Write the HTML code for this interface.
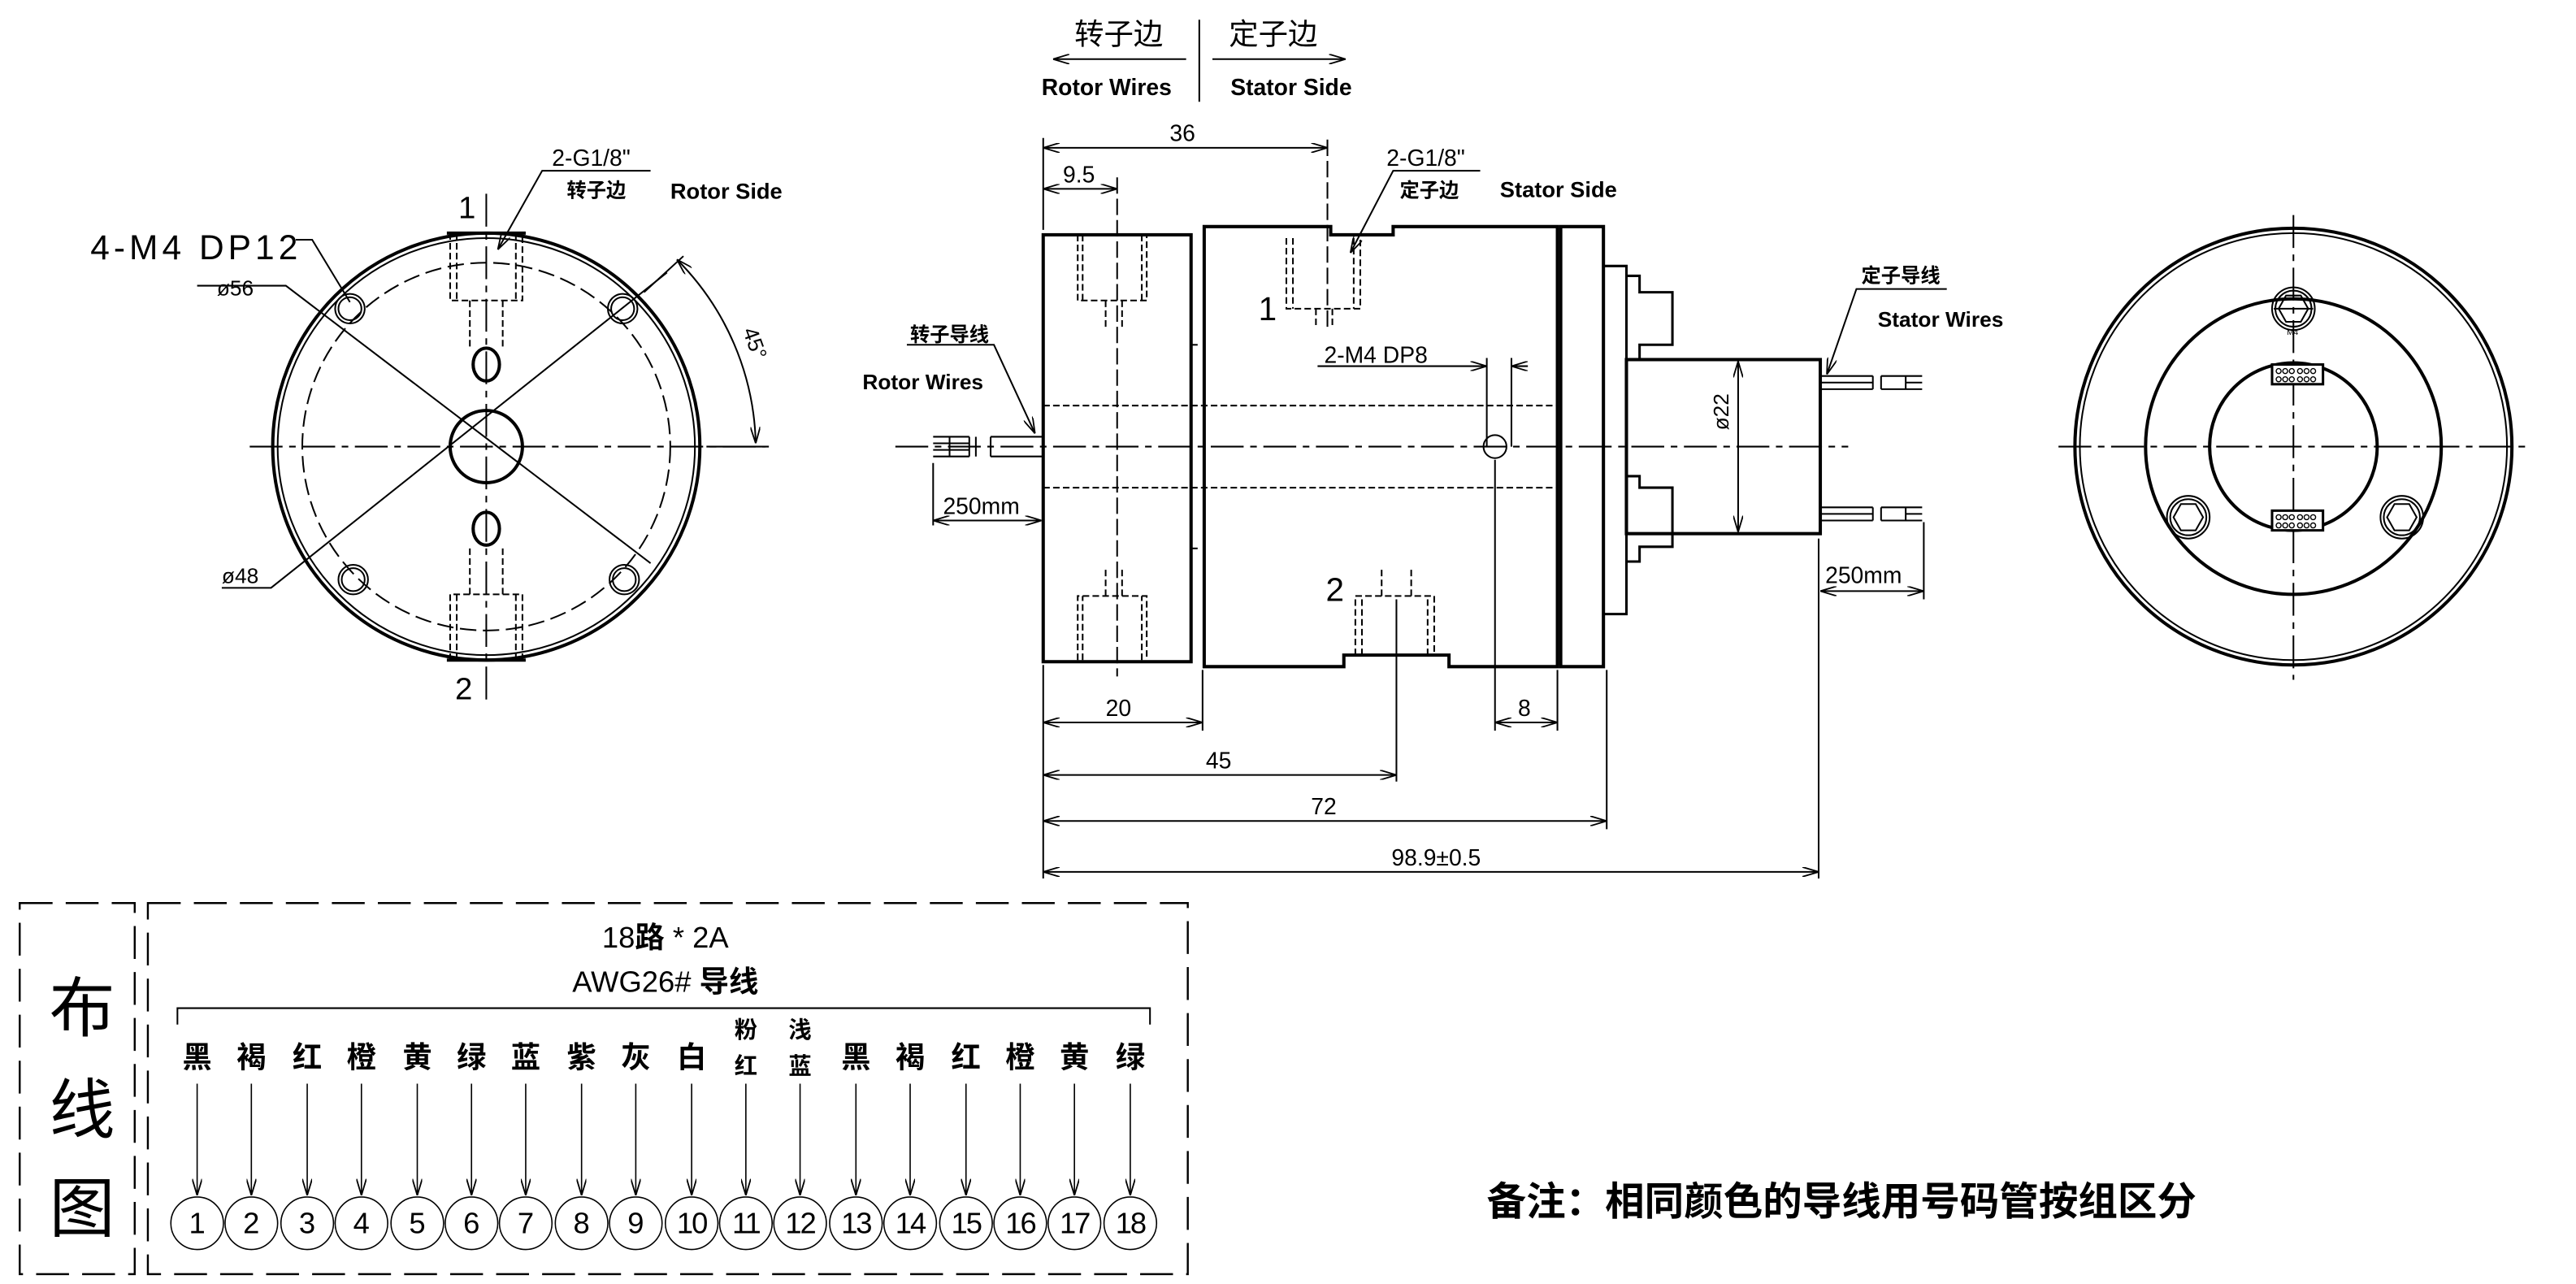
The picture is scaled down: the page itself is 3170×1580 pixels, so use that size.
<!DOCTYPE html>
<html><head><meta charset="utf-8"><style>
html,body{margin:0;padding:0;background:#fff}
svg{display:block}
text{font-family:"Liberation Sans","Noto Sans CJK SC",sans-serif;fill:#000}
.c{font-family:"Liberation Sans","Noto Sans CJK SC",sans-serif}
.n{font-family:"Liberation Sans Narrow","Liberation Sans",sans-serif;font-weight:normal}
</style></head><body>
<svg width="3170" height="1580" viewBox="0 0 1568 782" preserveAspectRatio="none" xmlns="http://www.w3.org/2000/svg">
<defs>
<marker id="a" viewBox="0 0 10 6" refX="10" refY="3" markerWidth="10" markerHeight="6" orient="auto-start-reverse" markerUnits="userSpaceOnUse"><path d="M0,0 L10,3 L0,6" fill="none" stroke="#000" stroke-width="0.9"/></marker>
</defs>
<g fill="none" stroke="#000" stroke-width="1">
<line x1="730" y1="12" x2="730" y2="62"/>
<line x1="722" y1="36" x2="641" y2="36" marker-end="url(#a)"/>
<line x1="738" y1="36" x2="819" y2="36" marker-end="url(#a)"/>

<g>
<circle cx="296" cy="272" r="130" stroke-width="2"/>
<circle cx="296" cy="272" r="127" stroke-width="1"/>
<line x1="272" y1="142" x2="320" y2="142" stroke-width="2"/>
<line x1="272" y1="402" x2="320" y2="402" stroke-width="2"/>
<circle cx="296" cy="272" r="112" stroke-dasharray="10,4"/>
<circle cx="296" cy="272" r="22" stroke-width="2"/>
<ellipse cx="296" cy="222" rx="8" ry="10" stroke-width="2"/>
<ellipse cx="296" cy="322" rx="8" ry="10" stroke-width="2"/>
<g stroke-dasharray="4,2">
<path d="M274,142 V183 H318 V142 M278,142 V183 M314,142 V183"/>
<path d="M286,183 V212 M306,183 V212"/>
<path d="M274,402 V362 H318 V402 M278,402 V362 M314,402 V362"/>
<path d="M286,362 V332 M306,362 V332"/>
</g>
<circle cx="213" cy="188" r="9"/><circle cx="213" cy="188" r="7"/>
<circle cx="379" cy="188" r="9"/><circle cx="379" cy="188" r="7"/>
<circle cx="215" cy="353" r="9"/><circle cx="215" cy="353" r="7"/>
<circle cx="380" cy="353" r="9"/><circle cx="380" cy="353" r="7"/>
<line x1="152" y1="272" x2="470" y2="272" stroke-dasharray="20,4,4,4"/>
<line x1="296" y1="118" x2="296" y2="430" stroke-dasharray="20,4,4,4"/>
<path d="M120,174 H174 L396,343"/>
<path d="M135,358 H165 L406,166"/>
<path d="M180,146 H190 L213,184" />
<path d="M396,104 H330 L303,152" marker-end="url(#a)"/>
<path d="M460,270 A164,164 0 0 0 412,158" marker-end="url(#a)" marker-start="url(#a)"/>
<line x1="392" y1="178" x2="416" y2="156"/>
<line x1="430" y1="272" x2="466" y2="272"/>
</g>
</g>
<text x="55" y="158" class="n" font-size="21" letter-spacing="2.5">4-M4 DP12</text>
<text x="132" y="180" class="n" font-size="13">ø56</text>
<text x="135" y="355" class="n" font-size="13">ø48</text>
<text x="279" y="133" class="n" font-size="19">1</text>
<text x="277" y="426" class="n" font-size="19">2</text>
<text x="336" y="101" class="n" font-size="14">2-G1/8"</text>
<text x="345" y="120" font-size="12" font-weight="bold">转子边</text>
<text x="408" y="121" font-size="13.5" font-weight="bold">Rotor Side</text>
<text x="448" y="207" class="n" font-size="13" transform="rotate(70 454 207)">45°</text>

<text x="654" y="27" font-size="18">转子边</text>
<text x="748" y="27" font-size="18">定子边</text>
<text x="634" y="58" font-size="14" font-weight="bold">Rotor Wires</text>
<text x="749" y="58" font-size="14" font-weight="bold">Stator Side</text>

<g fill="none" stroke="#000" stroke-width="1">
<rect x="635" y="143" width="90" height="260" stroke-width="2"/>
<line x1="725" y1="210" x2="729" y2="210"/><line x1="725" y1="334" x2="729" y2="334"/>
<path d="M733,138 H810 V143 H848 V138 H948 V406 H882 V399 H818 V406 H733 Z" stroke-width="2"/>
<path d="M950,138 H976 V406 H950 Z" stroke-width="2"/>
<path d="M976,162 H990 V374 H976" stroke-width="1.5"/>
<path d="M990,168 H998 V178 H1018 V210 H998 V218 M990,290 H998 V297 H1018 V333 H998 V342 H990" stroke-width="1.5"/>
<rect x="990" y="219" width="118" height="106" stroke-width="2"/>
<line x1="545" y1="272" x2="1125" y2="272" stroke-dasharray="20,4,4,4"/>
<line x1="635" y1="247" x2="948" y2="247" stroke-dasharray="4,2"/>
<line x1="635" y1="297" x2="948" y2="297" stroke-dasharray="4,2"/>
<g stroke-dasharray="4,2">
<path d="M656,143 V183 H698 V143 M659,143 V183 M695,143 V183 M673,183 V200 M683,183 V200"/>
<path d="M656,402 V363 H698 V402 M659,402 V363 M695,402 V363 M673,363 V345 M683,363 V345"/>
<path d="M783,145 V188 H828 V145 M787,145 V188 M824,145 V188 M801,188 V200 M811,188 V200"/>
<path d="M825,399 V363 H873 V399 M829,399 V363 M869,399 V363 M841,363 V347 M859,363 V347"/>
</g>
<line x1="808" y1="85" x2="808" y2="200" stroke-dasharray="10,3"/>
<line x1="850" y1="365" x2="850" y2="476"/>
<line x1="680" y1="108" x2="680" y2="412" stroke-dasharray="10,3"/>
<circle cx="910" cy="272" r="7"/>
<path d="M802,223 H896 M905,218 V272 M920,218 V272" />
<line x1="896" y1="223" x2="905" y2="223" marker-end="url(#a)"/>
<line x1="930" y1="223" x2="920" y2="223" marker-end="url(#a)"/>
<line x1="910" y1="280" x2="910" y2="445"/>
<path d="M568,266 H590 M568,270 H590 M568,274 H590 M568,278 H590 M578,266 V278 M590,266 V278 M594,266 V278 M603,266 H635 M603,278 H635 M603,266 V278"/>
<path d="M1108,229 H1140 M1108,233 H1140 M1108,237 H1140 M1145,229 H1160 M1145,237 H1160 M1160,229 H1170 M1160,233 H1170 M1160,237 H1170 M1140,229 V237 M1145,229 V237 M1160,229 V237"/>
<path d="M1108,309 H1140 M1108,313 H1140 M1108,317 H1140 M1145,309 H1160 M1145,317 H1160 M1160,309 H1170 M1160,313 H1170 M1160,317 H1170 M1140,309 V317 M1145,309 V317 M1160,309 V317"/>
<line x1="635" y1="84" x2="635" y2="140"/>
<line x1="635" y1="90" x2="808" y2="90" marker-start="url(#a)" marker-end="url(#a)"/>
<line x1="635" y1="115" x2="680" y2="115" marker-start="url(#a)" marker-end="url(#a)"/>
<line x1="635" y1="405" x2="635" y2="535"/>
<line x1="732" y1="408" x2="732" y2="445"/>
<line x1="948" y1="408" x2="948" y2="445"/>
<line x1="978" y1="408" x2="978" y2="505"/>
<line x1="1107" y1="328" x2="1107" y2="535"/>
<line x1="1171" y1="318" x2="1171" y2="365"/>
<line x1="568" y1="282" x2="568" y2="320"/>
<line x1="635" y1="440" x2="732" y2="440" marker-start="url(#a)" marker-end="url(#a)"/>
<line x1="910" y1="440" x2="948" y2="440" marker-start="url(#a)" marker-end="url(#a)"/>
<line x1="635" y1="472" x2="850" y2="472" marker-start="url(#a)" marker-end="url(#a)"/>
<line x1="635" y1="500" x2="978" y2="500" marker-start="url(#a)" marker-end="url(#a)"/>
<line x1="635" y1="531" x2="1107" y2="531" marker-start="url(#a)" marker-end="url(#a)"/>
<line x1="568" y1="317" x2="634" y2="317" marker-start="url(#a)" marker-end="url(#a)"/>
<line x1="1108" y1="360" x2="1171" y2="360" marker-start="url(#a)" marker-end="url(#a)"/>
<line x1="1058" y1="220" x2="1058" y2="324" marker-start="url(#a)" marker-end="url(#a)"/>
<path d="M901,104 H848 L822,154" marker-end="url(#a)"/>
<path d="M552,210 H605 L630,264" marker-end="url(#a)"/>
<path d="M1185,176 H1130 L1112,228" marker-end="url(#a)"/>
</g>
<text x="712" y="86" class="n" font-size="14">36</text>
<text x="647" y="111" class="n" font-size="14">9.5</text>
<text x="673" y="436" class="n" font-size="14">20</text>
<text x="924" y="436" class="n" font-size="14">8</text>
<text x="734" y="468" class="n" font-size="14">45</text>
<text x="798" y="496" class="n" font-size="14">72</text>
<text x="847" y="527" class="n" font-size="14">98.9±0.5</text>
<text x="574" y="313" class="n" font-size="14">250mm</text>
<text x="1111" y="355" class="n" font-size="14">250mm</text>
<text x="1052" y="262" class="n" font-size="13" transform="rotate(-90 1052 262)">ø22</text>
<text x="844" y="101" class="n" font-size="14">2-G1/8"</text>
<text x="852" y="120" font-size="12" font-weight="bold">定子边</text>
<text x="913" y="120" font-size="13.5" font-weight="bold">Stator Side</text>
<text x="766" y="195" class="n" font-size="20">1</text>
<text x="807" y="366" class="n" font-size="20">2</text>
<text x="806" y="221" class="n" font-size="14">2-M4  DP8</text>
<text x="554" y="208" font-size="12" font-weight="bold">转子导线</text>
<text x="525" y="237" font-size="13" font-weight="bold">Rotor Wires</text>
<text x="1133" y="172" font-size="12" font-weight="bold">定子导线</text>
<text x="1143" y="199" font-size="13" font-weight="bold">Stator Wires</text>

<g fill="none" stroke="#000">
<circle cx="1396" cy="272" r="133" stroke-width="2"/>
<circle cx="1396" cy="272" r="130" stroke-width="1"/>
<circle cx="1396" cy="272" r="90" stroke-width="2"/>
<circle cx="1396" cy="272" r="51" stroke-width="2"/>
<line x1="1253" y1="272" x2="1540" y2="272" stroke-dasharray="20,4,4,4"/>
<line x1="1396" y1="131" x2="1396" y2="414" stroke-dasharray="20,4,4,4"/>
<rect x="1383" y="222" width="31" height="12" stroke-width="1.5" fill="#fff"/>
<rect x="1383" y="311" width="31" height="12" stroke-width="1.5" fill="#fff"/>
<g stroke-width="0.7">
<circle cx="1387" cy="226" r="1.5"/><circle cx="1391" cy="226" r="1.5"/><circle cx="1395" cy="226" r="1.5"/><circle cx="1400" cy="226" r="1.5"/><circle cx="1404" cy="226" r="1.5"/><circle cx="1408" cy="226" r="1.5"/>
<circle cx="1387" cy="231" r="1.5"/><circle cx="1391" cy="231" r="1.5"/><circle cx="1395" cy="231" r="1.5"/><circle cx="1400" cy="231" r="1.5"/><circle cx="1404" cy="231" r="1.5"/><circle cx="1408" cy="231" r="1.5"/>
<circle cx="1387" cy="315" r="1.5"/><circle cx="1391" cy="315" r="1.5"/><circle cx="1395" cy="315" r="1.5"/><circle cx="1400" cy="315" r="1.5"/><circle cx="1404" cy="315" r="1.5"/><circle cx="1408" cy="315" r="1.5"/>
<circle cx="1387" cy="320" r="1.5"/><circle cx="1391" cy="320" r="1.5"/><circle cx="1395" cy="320" r="1.5"/><circle cx="1400" cy="320" r="1.5"/><circle cx="1404" cy="320" r="1.5"/><circle cx="1408" cy="320" r="1.5"/>
</g>
<circle cx="1396" cy="188" r="13"/><circle cx="1396" cy="188" r="11"/>
<path d="M1387,188 L1391.5,180 H1400.5 L1405,188 L1400.5,196 H1391.5 Z"/>
<line x1="1384" y1="188" x2="1408" y2="188"/>
<circle cx="1332" cy="315" r="13"/><circle cx="1332" cy="315" r="11"/>
<path d="M1323,315 L1327.5,307 H1336.5 L1341,315 L1336.5,323 H1327.5 Z"/>
<circle cx="1462" cy="315" r="13"/><circle cx="1462" cy="315" r="11"/>
<path d="M1453,315 L1457.5,307 H1466.5 L1471,315 L1466.5,323 H1457.5 Z"/>
</g>
<text x="1392" y="204" font-size="5">M4</text>

<g fill="none" stroke="#000" stroke-width="1.2" stroke-dasharray="20,8">
<rect x="12" y="550" width="70" height="226"/>
<rect x="90" y="550" width="633" height="226"/>
</g>
<g fill="none" stroke="#000" stroke-width="1">
<path d="M108,624 V614 H700 V624"/>
</g>
<text x="50" y="628" font-size="40" text-anchor="middle">布</text>
<text x="50" y="690" font-size="40" text-anchor="middle">线</text>
<text x="50" y="750" font-size="40" text-anchor="middle">图</text>
<text x="405" y="577" class="n" font-size="18" text-anchor="middle">18<tspan class="c" font-weight="bold">路</tspan> * 2A</text>
<text x="405" y="604" class="n" font-size="18" text-anchor="middle">AWG26# <tspan class="c" font-weight="bold">导线</tspan></text>
<g font-size="18" font-weight="bold" text-anchor="middle">
<text x="120" y="650">黑</text><text x="153" y="650">褐</text><text x="187" y="650">红</text><text x="220" y="650">橙</text><text x="254" y="650">黄</text><text x="287" y="650">绿</text><text x="320" y="650">蓝</text><text x="354" y="650">紫</text><text x="387" y="650">灰</text><text x="421" y="650">白</text>
<text x="521" y="650">黑</text><text x="554" y="650">褐</text><text x="588" y="650">红</text><text x="621" y="650">橙</text><text x="654" y="650">黄</text><text x="688" y="650">绿</text>
</g>
<g font-size="14" font-weight="bold" text-anchor="middle">
<text x="454" y="632">粉</text><text x="454" y="654">红</text>
<text x="487" y="632">浅</text><text x="487" y="654">蓝</text>
</g>
<g fill="none" stroke="#000" stroke-width="0.8">
<line x1="120" y1="660" x2="120" y2="728" marker-end="url(#a)"/><line x1="153" y1="660" x2="153" y2="728" marker-end="url(#a)"/><line x1="187" y1="660" x2="187" y2="728" marker-end="url(#a)"/><line x1="220" y1="660" x2="220" y2="728" marker-end="url(#a)"/><line x1="254" y1="660" x2="254" y2="728" marker-end="url(#a)"/><line x1="287" y1="660" x2="287" y2="728" marker-end="url(#a)"/><line x1="320" y1="660" x2="320" y2="728" marker-end="url(#a)"/><line x1="354" y1="660" x2="354" y2="728" marker-end="url(#a)"/><line x1="387" y1="660" x2="387" y2="728" marker-end="url(#a)"/><line x1="421" y1="660" x2="421" y2="728" marker-end="url(#a)"/><line x1="454" y1="660" x2="454" y2="728" marker-end="url(#a)"/><line x1="487" y1="660" x2="487" y2="728" marker-end="url(#a)"/><line x1="521" y1="660" x2="521" y2="728" marker-end="url(#a)"/><line x1="554" y1="660" x2="554" y2="728" marker-end="url(#a)"/><line x1="588" y1="660" x2="588" y2="728" marker-end="url(#a)"/><line x1="621" y1="660" x2="621" y2="728" marker-end="url(#a)"/><line x1="654" y1="660" x2="654" y2="728" marker-end="url(#a)"/><line x1="688" y1="660" x2="688" y2="728" marker-end="url(#a)"/>
<circle cx="120" cy="745" r="16"/><circle cx="153" cy="745" r="16"/><circle cx="187" cy="745" r="16"/><circle cx="220" cy="745" r="16"/><circle cx="254" cy="745" r="16"/><circle cx="287" cy="745" r="16"/><circle cx="320" cy="745" r="16"/><circle cx="354" cy="745" r="16"/><circle cx="387" cy="745" r="16"/><circle cx="421" cy="745" r="16"/><circle cx="454" cy="745" r="16"/><circle cx="487" cy="745" r="16"/><circle cx="521" cy="745" r="16"/><circle cx="554" cy="745" r="16"/><circle cx="588" cy="745" r="16"/><circle cx="621" cy="745" r="16"/><circle cx="654" cy="745" r="16"/><circle cx="688" cy="745" r="16"/>
</g>
<g class="n" font-size="18" text-anchor="middle">
<text x="120" y="751">1</text><text x="153" y="751">2</text><text x="187" y="751">3</text><text x="220" y="751">4</text><text x="254" y="751">5</text><text x="287" y="751">6</text><text x="320" y="751">7</text><text x="354" y="751">8</text><text x="387" y="751">9</text><text x="421" y="751" letter-spacing="-1">10</text><text x="454" y="751" letter-spacing="-1">11</text><text x="487" y="751" letter-spacing="-1">12</text><text x="521" y="751" letter-spacing="-1">13</text><text x="554" y="751" letter-spacing="-1">14</text><text x="588" y="751" letter-spacing="-1">15</text><text x="621" y="751" letter-spacing="-1">16</text><text x="654" y="751" letter-spacing="-1">17</text><text x="688" y="751" letter-spacing="-1">18</text>
</g>
<text x="905" y="740" font-size="24" font-weight="bold">备注：相同颜色的导线用号码管按组区分</text>
</svg>
</body></html>
